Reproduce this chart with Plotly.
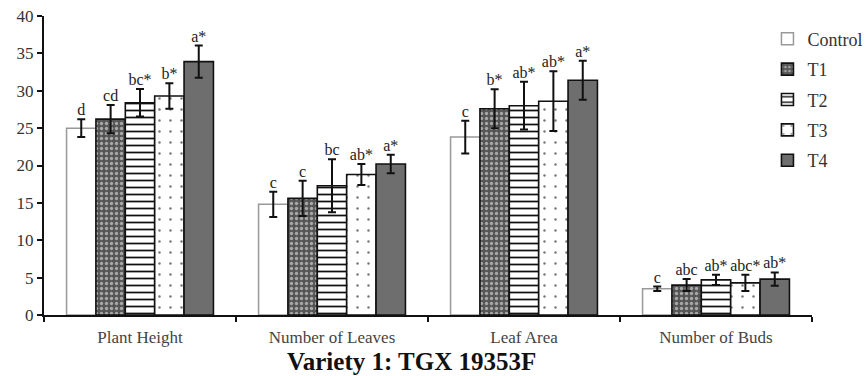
import plotly.graph_objects as go

categories = ["Plant Height", "Number of Leaves", "Leaf Area", "Number of Buds"]
series_names = ["Control", "T1", "T2", "T3", "T4"]

control = [25.0, 14.8, 23.8, 3.5]
control_err = [1.2, 1.7, 2.2, 0.3]
control_lbl = ["d", "c", "c", "c"]

t1 = [26.2, 15.6, 27.6, 4.0]
t1_err = [1.9, 2.35, 2.6, 0.8]
t1_lbl = ["cd", "c", "b*", "abc"]

t2 = [28.4, 17.3, 28.0, 4.7]
t2_err = [1.85, 3.55, 3.2, 0.7]
t2_lbl = ["bc*", "bc", "ab*", "ab*"]

t3 = [29.3, 18.8, 28.6, 4.3]
t3_err = [1.7, 1.4, 4.0, 1.1]
t3_lbl = ["b*", "ab*", "ab*", "abc*"]

t4 = [33.9, 20.2, 31.4, 4.8]
t4_err = [2.15, 1.25, 2.6, 0.9]
t4_lbl = ["a*", "a*", "a*", "ab*"]

values = [control, t1, t2, t3, t4]
errors = [control_err, t1_err, t2_err, t3_err, t4_err]
labels = [control_lbl, t1_lbl, t2_lbl, t3_lbl, t4_lbl]

FONT = "Liberation Serif"

styles = [
    dict(color="white", line=dict(color="#999999", width=1.5)),
    dict(color="#555555", line=dict(color="#111", width=1.6),
         pattern=dict(shape=".", fgcolor="#a8a8a8", bgcolor="#555555", size=5, solidity=0.35, fillmode="replace")),
    dict(color="white", line=dict(color="#111", width=1.6),
         pattern=dict(shape="-", fgcolor="#111", bgcolor="white", size=7, solidity=0.25, fillmode="replace")),
    dict(color="white", line=dict(color="#111", width=1.6),
         pattern=dict(shape=".", fgcolor="#777", bgcolor="white", size=11, solidity=0.04, fillmode="replace")),
    dict(color="#6e6e6e", line=dict(color="#111", width=1.6)),
]

fig = go.Figure()
for i, name in enumerate(series_names):
    fig.add_trace(go.Bar(
        x=categories, y=values[i], name=name, offsetgroup=str(i),
        marker=styles[i], legendgroup=name,
        error_y=dict(type="data", array=errors[i], color="#111", thickness=2, width=4),
    ))
for i, name in enumerate(series_names):
    tops = [v + e for v, e in zip(values[i], errors[i])]
    fig.add_trace(go.Scatter(
        x=categories, y=tops, mode="text", text=labels[i], offsetgroup=str(i),
        textposition="top center", showlegend=False, hoverinfo="skip",
        textfont=dict(family=FONT, size=16, color="#222"),
    ))

fig.add_annotation(
    text="<b>Variety 1: TGX 19353F</b>", xref="paper", yref="paper",
    x=0.478, y=-0.157, xanchor="center", yanchor="middle", showarrow=False,
    font=dict(family=FONT, size=25, color="#111"),
)

fig.update_layout(
    width=867, height=376,
    margin=dict(l=44, r=55, t=16, b=61, autoexpand=False),
    paper_bgcolor="white", plot_bgcolor="white",
    barmode="group", bargap=0.235, bargroupgap=0,
    scattermode="group", scattergap=0.235,
    font=dict(family=FONT, color="#333"),
    legend=dict(x=0.942, y=0.985, xanchor="left", yanchor="top",
                font=dict(family=FONT, size=18, color="#333"),
                tracegroupgap=4, bgcolor="rgba(0,0,0,0)"),
    xaxis=dict(showline=True, linecolor="#111", linewidth=2, ticks="outside",
               tickson="boundaries", ticklen=5, tickwidth=2, tickcolor="#111",
               ticklabelstandoff=6,
               tickfont=dict(family=FONT, size=17, color="#444"), showgrid=False,
               automargin=False),
    yaxis=dict(range=[0, 40], dtick=5, showline=True, linecolor="#111", linewidth=2,
               ticks="outside", ticklen=5, tickwidth=2, tickcolor="#111",
               tickfont=dict(family=FONT, size=17, color="#333"), showgrid=False,
               zeroline=False, automargin=False),
)

fig.write_html("out.html", config={"displayModeBar": False},
               post_script="document.body.style.margin='0';")
